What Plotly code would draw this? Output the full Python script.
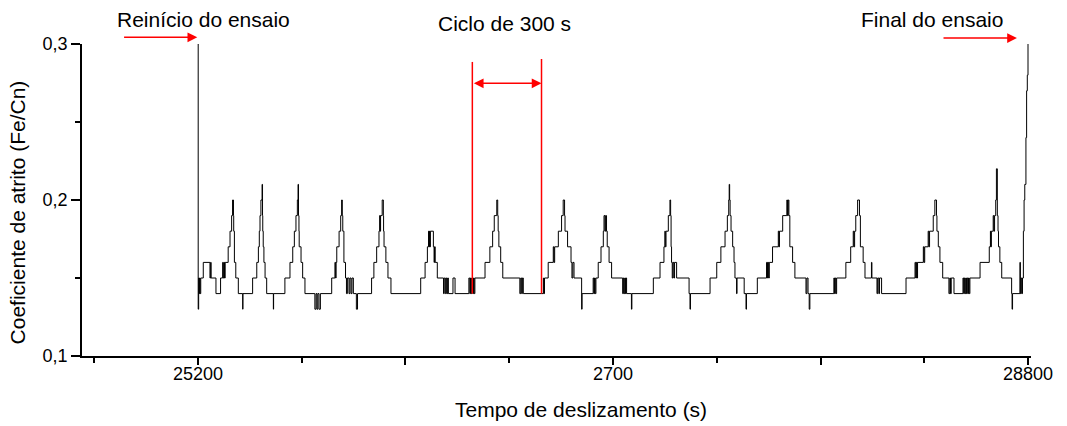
import plotly.graph_objects as go

# Friction coefficient step record (time in s, value)
tempo = [
    25200, 25201, 25203, 25205, 25207, 25209, 25212, 25223, 25252, 25255, 25257, 25278,
    25298, 25307, 25310, 25313, 25315, 25318, 25331, 25339, 25346, 25350, 25354, 25355,
    25358, 25364, 25375, 25394, 25395,
    25437, 25455, 25462, 25466, 25469, 25473, 25478, 25480, 25481, 25483, 25486, 25491,
    25498, 25527, 25528,
    25577, 25599, 25611, 25618, 25625, 25631, 25634, 25636, 25638, 25639, 25647, 25654,
    25664, 25707, 25712, 25716, 25720, 25725, 25731,
    25780, 25794, 25797, 25799, 25802, 25812, 25819, 25823, 25826, 25828, 25833, 25840,
    25844, 25848, 25855, 25859, 25864, 25868, 25874, 25887, 25892,
    25953, 25963, 25975, 25985, 25988, 25990, 25992, 25999, 26004, 26005, 26007, 26015,
    26024, 26037,
    26166, 26185, 26195, 26200, 26202, 26204, 26206, 26208, 26221, 26224, 26226, 26229,
    26238, 26265, 26268, 26273, 26277, 26280, 26283, 26286, 26306, 26315,
    26375, 26379, 26382, 26385, 26388, 26392, 26395, 26398, 26401, 26445, 26466, 26478,
    26485, 26496, 26500, 26502, 26505, 26513, 26522, 26596, 26600, 26604, 26607, 26611,
    26698, 26700, 26703, 26719, 26741, 26744, 26747, 26763, 26777, 26784, 26790, 26792,
    26803, 26818, 26822, 26826, 26831, 26864, 26866,
    26914, 26917, 26920, 26923, 26926, 26936, 26948, 26958, 26961, 26965, 26968, 26972,
    26975, 26983, 26994,
    27042, 27045, 27048, 27051, 27054, 27056, 27059, 27080, 27082,
    27175, 27204, 27221, 27225, 27227, 27230, 27240, 27247, 27250, 27252, 27254, 27257,
    27260, 27264, 27267, 27276, 27330, 27334, 27336,
    27421, 27450, 27468, 27486, 27496, 27502, 27504, 27506, 27508, 27512, 27519, 27525,
    27529, 27536, 27538, 27569, 27577, 27579,
    27626, 27666, 27670, 27672, 27675, 27678, 27692, 27717, 27720, 27722, 27736, 27754,
    27757, 27760, 27763, 27767, 27779, 27789, 27837, 27841, 27846, 27851, 27854,
    27958, 27961, 27964, 27967, 27970, 28010, 28031, 28042, 28045, 28048, 28053, 28061,
    28069, 28073, 28085, 28093, 28121, 28123, 28145, 28148, 28153, 28156, 28165,
    28271, 28310, 28313, 28316, 28319, 28321, 28346, 28349, 28352, 28367, 28370, 28373,
    28389, 28396, 28403, 28405, 28411, 28418, 28430, 28457, 28461, 28464, 28467, 28479,
    28518, 28521, 28524, 28527, 28530, 28533, 28536, 28539, 28542, 28545, 28548, 28592,
    28632, 28637, 28639, 28641, 28649, 28652, 28655, 28660, 28663, 28667, 28670, 28672,
    28678, 28686, 28729, 28731, 28733,
    28765, 28767, 28770, 28773, 28776, 28780, 28783, 28786, 28791, 28794, 28797, 28800,
]
coef = [
    0.30, 0.13, 0.15, 0.14, 0.15, 0.14, 0.15, 0.16, 0.15, 0.16, 0.15, 0.14,
    0.15, 0.16, 0.15, 0.16, 0.15, 0.16, 0.17, 0.18, 0.19, 0.20, 0.19, 0.18,
    0.16, 0.15, 0.14, 0.13, 0.14,
    0.15, 0.16, 0.17, 0.18, 0.19, 0.20, 0.21, 0.19, 0.18, 0.17, 0.16, 0.15,
    0.14, 0.13, 0.14,
    0.15, 0.16, 0.17, 0.18, 0.19, 0.20, 0.21, 0.19, 0.18, 0.17, 0.16, 0.15,
    0.14, 0.13, 0.14, 0.13, 0.14, 0.13, 0.14,
    0.15, 0.16, 0.15, 0.16, 0.17, 0.18, 0.19, 0.20, 0.19, 0.18, 0.16, 0.15,
    0.14, 0.15, 0.14, 0.15, 0.14, 0.15, 0.14, 0.13, 0.14,
    0.15, 0.16, 0.17, 0.18, 0.19, 0.18, 0.19, 0.20, 0.19, 0.18, 0.17, 0.16,
    0.15, 0.14,
    0.15, 0.16, 0.17, 0.18, 0.17, 0.18, 0.17, 0.18, 0.17, 0.16, 0.17, 0.16,
    0.15, 0.14, 0.15, 0.14, 0.15, 0.14, 0.15, 0.14, 0.15, 0.14,
    0.15, 0.14, 0.15, 0.14, 0.15, 0.14, 0.15, 0.14, 0.15, 0.16, 0.17, 0.18,
    0.19, 0.20, 0.19, 0.18, 0.17, 0.16, 0.15, 0.14, 0.15, 0.14, 0.15, 0.14,
    0.15, 0.14, 0.15, 0.16, 0.17, 0.16, 0.17, 0.18, 0.19, 0.20, 0.19, 0.18,
    0.17, 0.16, 0.15, 0.16, 0.15, 0.13, 0.14,
    0.15, 0.14, 0.15, 0.14, 0.15, 0.16, 0.17, 0.18, 0.19, 0.18, 0.19, 0.18,
    0.17, 0.16, 0.15,
    0.14, 0.15, 0.14, 0.15, 0.14, 0.15, 0.14, 0.13, 0.14,
    0.15, 0.16, 0.17, 0.18, 0.17, 0.18, 0.19, 0.20, 0.19, 0.17, 0.16, 0.15,
    0.16, 0.15, 0.16, 0.15, 0.14, 0.13, 0.14,
    0.15, 0.16, 0.17, 0.18, 0.19, 0.20, 0.21, 0.20, 0.19, 0.18, 0.17, 0.16,
    0.15, 0.14, 0.15, 0.14, 0.13, 0.14,
    0.15, 0.16, 0.15, 0.16, 0.15, 0.16, 0.17, 0.18, 0.17, 0.18, 0.19, 0.20,
    0.19, 0.20, 0.19, 0.17, 0.16, 0.15, 0.14, 0.15, 0.14, 0.13, 0.14,
    0.15, 0.14, 0.15, 0.14, 0.15, 0.16, 0.17, 0.18, 0.17, 0.18, 0.19, 0.20,
    0.19, 0.17, 0.16, 0.15, 0.16, 0.15, 0.14, 0.15, 0.14, 0.15, 0.14,
    0.15, 0.16, 0.15, 0.16, 0.15, 0.16, 0.17, 0.16, 0.17, 0.18, 0.17, 0.18,
    0.19, 0.20, 0.19, 0.18, 0.17, 0.16, 0.15, 0.14, 0.15, 0.14, 0.15, 0.14,
    0.15, 0.14, 0.15, 0.14, 0.15, 0.14, 0.15, 0.14, 0.15, 0.14, 0.15, 0.16,
    0.17, 0.18, 0.17, 0.18, 0.19, 0.18, 0.19, 0.20, 0.22, 0.19, 0.18, 0.17,
    0.16, 0.15, 0.14, 0.13, 0.14,
    0.16, 0.14, 0.15, 0.14, 0.15, 0.18, 0.20, 0.21, 0.24, 0.27, 0.28, 0.30,
]

x_major = [25200, 26100, 27000, 27900, 28800]
x_major_text = ["25200", "", "2700", "", "28800"]
x_minor = [24750, 25650, 26550, 27450, 28350]
y_major = [0.1, 0.2, 0.3]
y_major_text = ["0,1", "0,2", "0,3"]
y_minor = [0.15, 0.25]

ciclo_ini, ciclo_fim = 26390, 26690

FONT = "Liberation Sans, Arial, sans-serif"
RED = "#ff0000"

fig = go.Figure()
fig.add_trace(go.Scatter(
    x=tempo, y=coef, mode="lines", line=dict(color="black", width=1, shape="hv"),
    showlegend=False, hoverinfo="skip",
))

axis_common = dict(
    showgrid=False, zeroline=False, showline=True, linecolor="black", linewidth=1.5,
    ticks="outside", tickcolor="black", tickwidth=1.5,
    tickfont=dict(family=FONT, size=18, color="black"),
)

fig.update_xaxes(
    range=[24697, 28813], tickmode="array", tickvals=x_major, ticktext=x_major_text,
    ticklen=7, ticklabelstandoff=-6, **axis_common,
    minor=dict(ticks="outside", ticklen=5, tickcolor="black", tickwidth=1.5,
               tickmode="array", tickvals=x_minor),
)
fig.update_yaxes(
    range=[0.1, 0.3], tickmode="array", tickvals=y_major, ticktext=y_major_text,
    ticklen=9, **axis_common,
    minor=dict(ticks="outside", ticklen=5, tickcolor="black", tickwidth=1.5,
               tickmode="array", tickvals=y_minor),
)

# red markers of the 300 s cycle
for xc, ytop in [(ciclo_ini, 0.2885), (ciclo_fim, 0.2904)]:
    fig.add_shape(type="line", x0=xc, x1=xc, y0=0.14, y1=ytop,
                  line=dict(color=RED, width=1.5), layer="above")

text_font = dict(family=FONT, size=21, color="black")
annotations = [
    dict(x=25197, y=1.0215, xref="x", yref="paper", ax=24873, axref="x",
         ay=0, ayref="pixel", text="", showarrow=True, arrowhead=2, arrowsize=1.3,
         arrowwidth=1.5, arrowcolor=RED),
    dict(x=28752, y=1.0192, xref="x", yref="paper", ax=28427, axref="x",
         ay=0, ayref="pixel", text="", showarrow=True, arrowhead=2, arrowsize=1.3,
         arrowwidth=1.5, arrowcolor=RED),
    dict(x=ciclo_fim, y=0.2748, ax=ciclo_ini, ay=0.2748, axref="x", ayref="y",
         xref="x", yref="y", text="", showarrow=True, arrowhead=2, startarrowhead=2,
         arrowside="end+start", arrowsize=1.3, startarrowsize=1.3,
         arrowwidth=1.5, arrowcolor=RED),
    dict(x=25226, y=1.080, xref="x", yref="paper", text="Reinício do ensaio",
         xanchor="center", yanchor="middle", showarrow=False, font=text_font),
    dict(x=26531, y=1.067, xref="x", yref="paper", text="Ciclo de 300 s",
         xanchor="center", yanchor="middle", showarrow=False, font=text_font),
    dict(x=28383, y=1.077, xref="x", yref="paper", text="Final do ensaio",
         xanchor="center", yanchor="middle", showarrow=False, font=text_font),
    dict(x=26861, y=-0.173, xref="x", yref="paper", text="Tempo de deslizamento (s)",
         xanchor="center", yanchor="middle", showarrow=False, font=text_font),
    dict(x=-0.0675, y=0.46, xref="paper", yref="paper", text="Coeficiente de atrito (Fe/Cn)",
         xanchor="center", yanchor="middle", textangle=-90, showarrow=False, font=text_font),
]
fig.update_layout(
    width=1067, height=426,
    margin=dict(l=82, r=36, t=44, b=70),
    paper_bgcolor="white", plot_bgcolor="white",
    annotations=annotations,
    font=dict(family=FONT, color="black"),
)

fig.write_html("out.html")
